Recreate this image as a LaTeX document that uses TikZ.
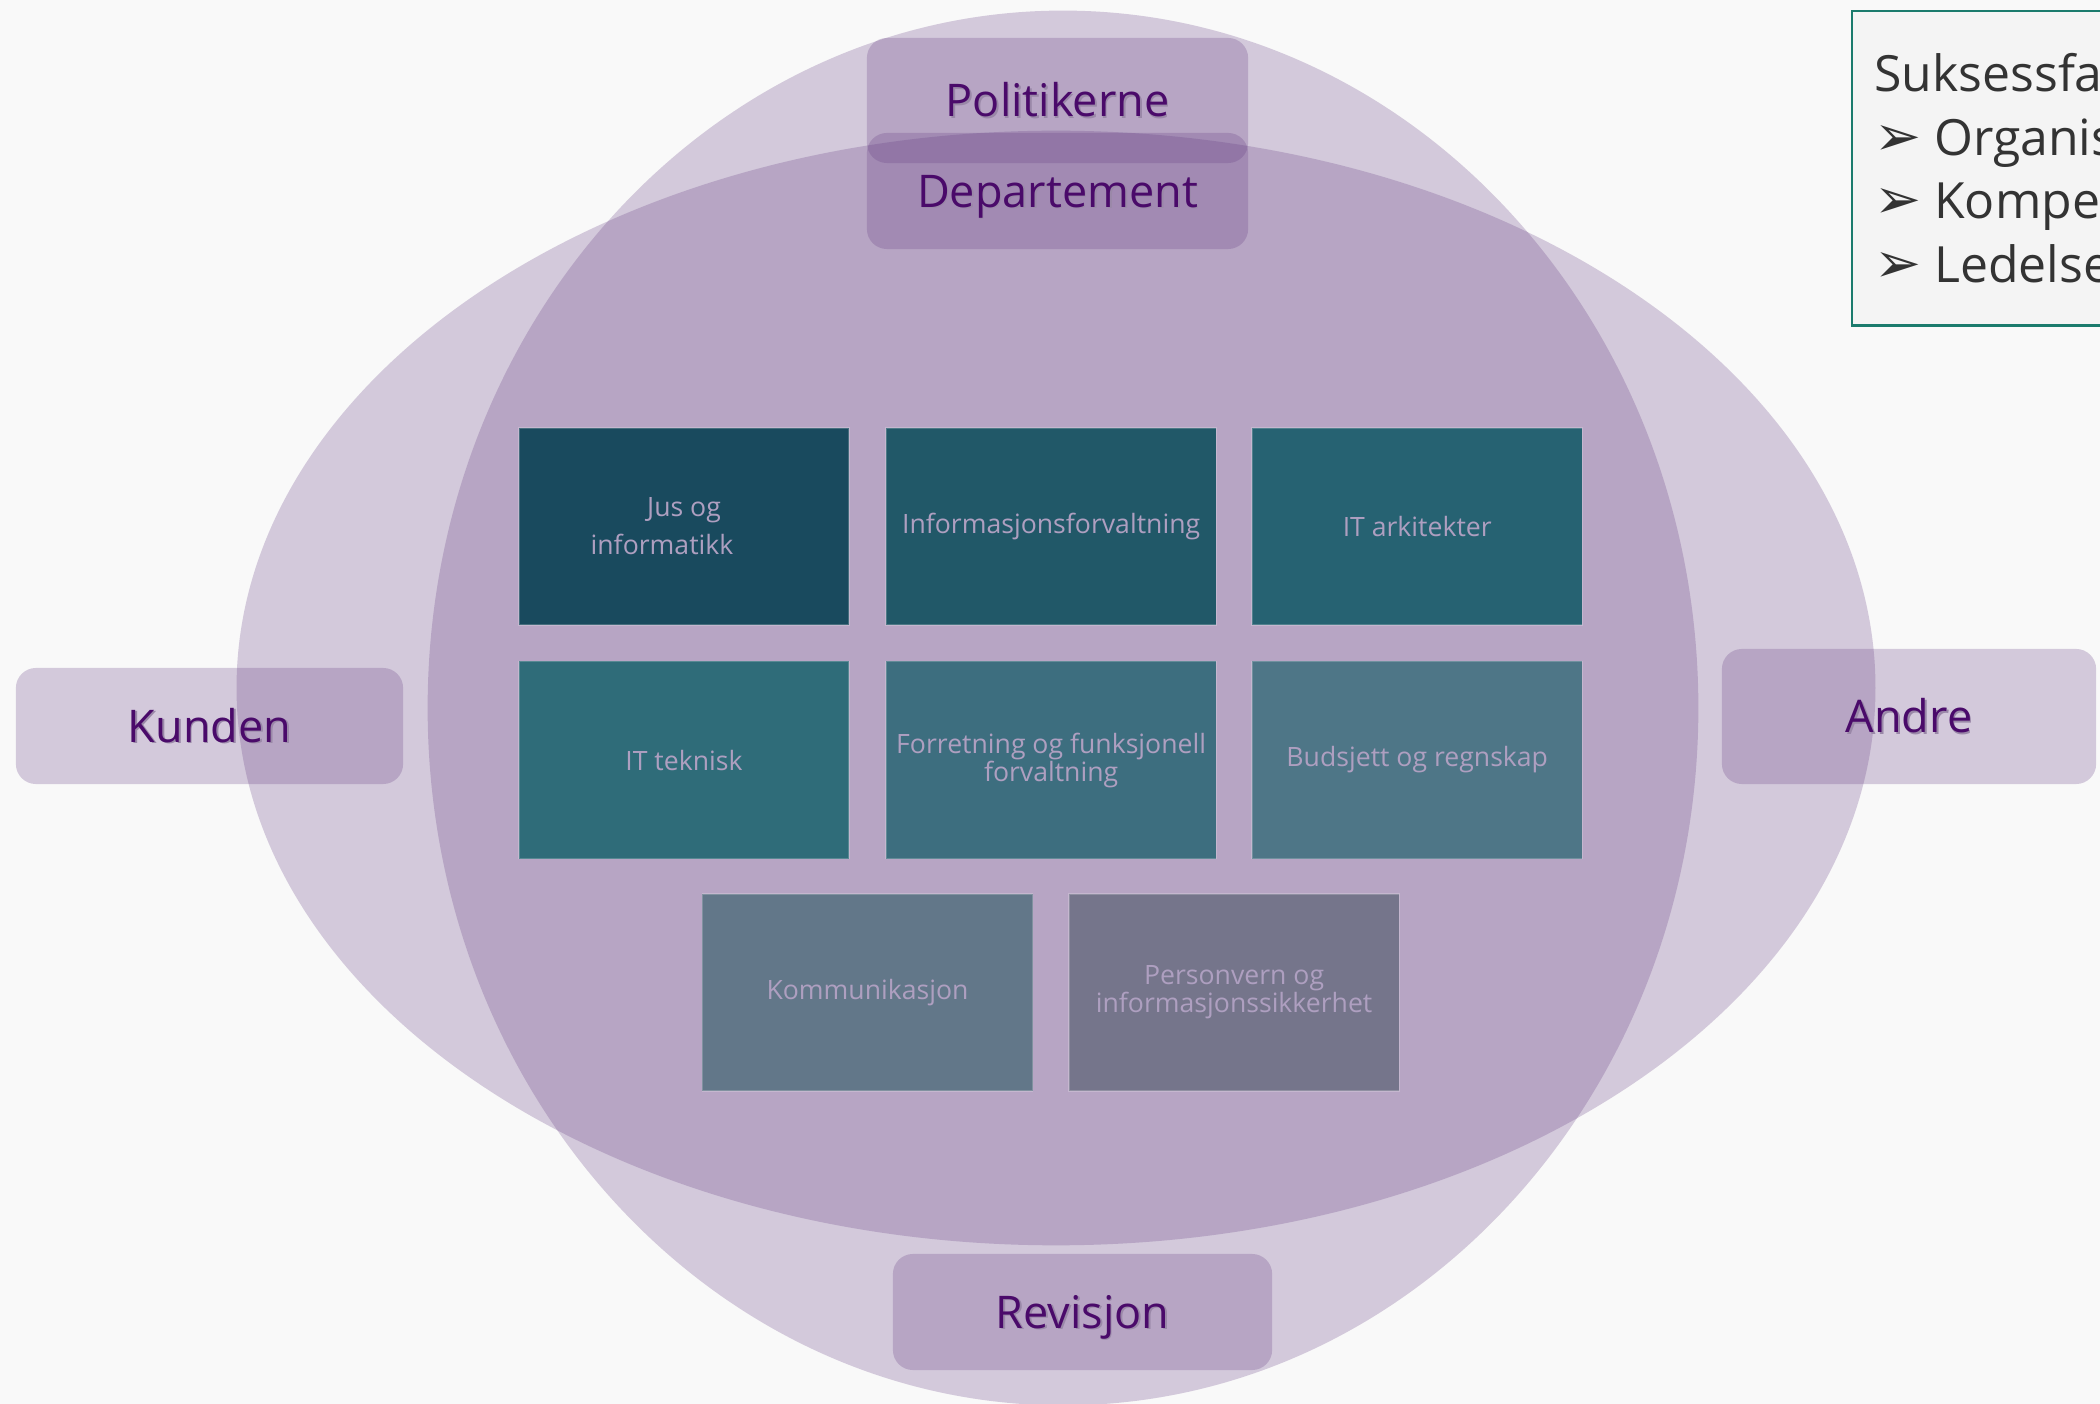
\documentclass[tikz,border=0pt]{standalone}
\usepackage{fontspec}
\setmainfont{Open Sans}
\newfontfamily\dejavu{DejaVu Sans}
\usetikzlibrary{positioning}

\definecolor{bakgrunn}{HTML}{F9F9F9}
\definecolor{lilla}{HTML}{643C82}
\definecolor{aktortekst}{HTML}{4A0A6A}
\definecolor{skyggefarge}{HTML}{9A88A8}
\definecolor{fagtekst}{HTML}{AE9FC0}
\definecolor{rammefarge}{HTML}{1B7B6D}
\definecolor{boksfyll}{HTML}{F4F4F4}
\definecolor{bokstekst}{HTML}{333333}
\definecolor{fagA}{HTML}{194A5E}
\definecolor{fagB}{HTML}{215868}
\definecolor{fagC}{HTML}{266272}
\definecolor{fagD}{HTML}{2F6C79}
\definecolor{fagE}{HTML}{3D6E7F}
\definecolor{fagF}{HTML}{4E7687}
\definecolor{fagG}{HTML}{627789}
\definecolor{fagH}{HTML}{75758B}

\newcommand{\skygge}[1]{\makebox[0pt][l]{\kern0.5pt\raisebox{-0.5pt}{\textcolor{skyggefarge}{#1}}}#1}
\newcommand{\pil}{\makebox[0.6cm][l]{\dejavu\fontsize{16pt}{16pt}\selectfont ➢}}

\begin{document}
\begin{tikzpicture}[x=0.01cm, y=-0.01cm]
	\tikzstyle{blob}=[fill=lilla, fill opacity=0.25];
	\tikzstyle{aktor}=[rectangle, rounded corners=0.2cm, fill=lilla, fill opacity=0.25,
	                   text opacity=1, text=aktortekst, inner sep=0pt, minimum height=1.16cm,
	                   text height=9.2pt, text depth=0pt, font=\fontsize{12.8pt}{15pt}\selectfont];
	\tikzstyle{fag}=[rectangle, inner sep=0pt, minimum width=3.3cm, minimum height=1.97cm,
	                 draw=white, draw opacity=0.2, line width=0.4pt, text=fagtekst,
	                 align=center, font=\fontsize{7.57pt}{7.97pt}\selectfont];
	\useasboundingbox (0,0) rectangle (2100,1404);
	\clip (0,0) rectangle (2100,1404);
	\fill[bakgrunn] (0,0) rectangle (2100,1404);
	% sirkel og ellipse
	\fill[blob] (1063,708) ellipse [x radius=6.35cm, y radius=6.97cm];
	\fill[blob] (1056,688) ellipse [x radius=8.19cm, y radius=5.57cm];
	% aktorene
	\node[aktor, minimum width=3.81cm, minimum height=1.25cm] (politikerne) at (1057.5,100.5) {\skygge{Politikerne}};
	\node[aktor, minimum width=3.81cm] (departement) at (1057.5,191) {\skygge{Departement}};
	\node[aktor, minimum width=3.87cm] (kunden) at (209.5,726) {\skygge{Kunden}};
	\node[aktor, minimum width=3.74cm, minimum height=1.35cm] (andre) at (1909,716.5) {\skygge{Andre}};
	\node[aktor, minimum width=3.79cm] (revisjon) at (1082.5,1312) {\skygge{Revisjon}};
	% fagomraadene
	\node[fag, fill=fagA] (jus) at (684,526.5) {Jus og\\[2.85pt]informatikk\hspace*{0.44cm}};
	\node[fag, fill=fagB, right=0.355cm of jus] (infoforv) {Informasjonsforvaltning};
	\node[fag, fill=fagC, right=0.345cm of infoforv] (itark) {IT arkitekter};
	\node[fag, fill=fagD, below=0.35cm of jus] (itteknisk) {IT teknisk};
	\node[fag, fill=fagE, below=0.35cm of infoforv] (forretning) {Forretning og funksjonell\\forvaltning};
	\node[fag, fill=fagF, below=0.35cm of itark] (budsjett) {Budsjett og regnskap};
	\node[fag, fill=fagG] (kommunikasjon) at (867.5,992.5) {Kommunikasjon};
	\node[fag, fill=fagH, right=0.35cm of kommunikasjon] (personvern) {Personvern og\\informasjonssikkerhet};
	% suksessfaktorer
	\node[rectangle, draw=rammefarge, line width=0.7pt, fill=boksfyll, text=bokstekst,
	      anchor=north west, inner xsep=0.22cm, inner ysep=0pt, minimum height=3.14cm,
	      text width=5cm, align=left, font=\fontsize{14.2pt}{18.07pt}\selectfont]
	      (suksess) at (1851,10) {Suksessfaktorer\\\pil Organisering\\\pil Kompetanse\\\pil Ledelse};
\end{tikzpicture}
\end{document}
